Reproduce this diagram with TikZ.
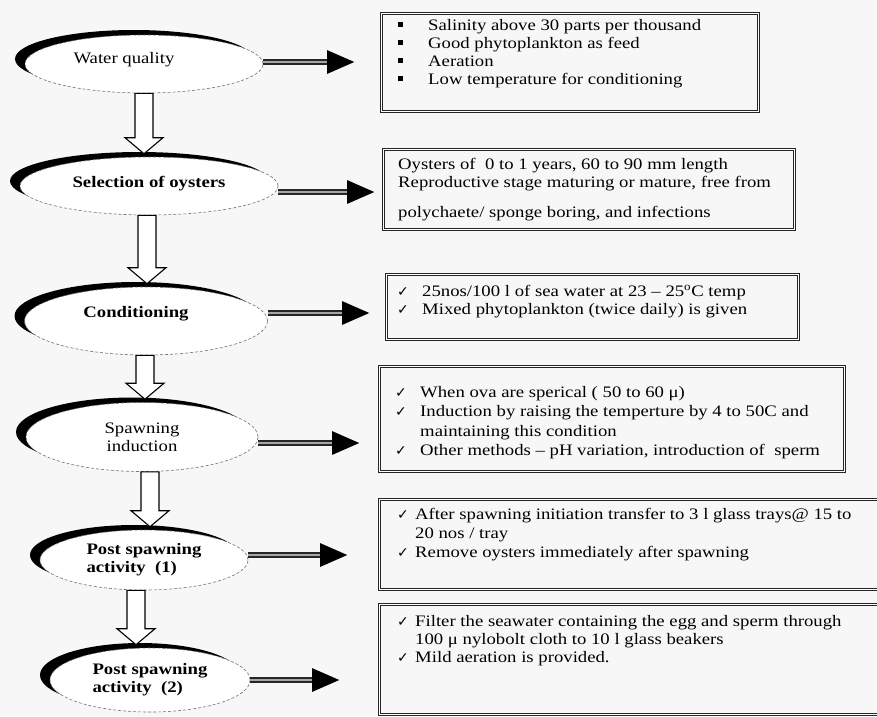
\documentclass[tikz,border=0pt]{standalone}
\usepackage{fontspec}
\setmainfont{Liberation Serif}[FakeStretch=1.17]
\newfontfamily\symf{DejaVu Sans}
\usetikzlibrary{shapes.geometric,shadows,arrows.meta,calc}

\newcommand\bitem[1]{\makebox[30pt][l]{\rule[3.5pt]{4.5pt}{4.5pt}}#1}
\newcommand\citem[2]{\makebox[#1][l]{\raisebox{0pt}{\symf\fontsize{14}{14}\selectfont ✓}}#2}
\newcommand\hollowdown[3]{%
  \draw[hollow] let \p1=(#1.south), \p2=(#2.north) in
   ({#3pt-9pt},\y1) -- ({#3pt+9pt},\y1) -- ({#3pt+9pt},\y2+19pt) --
   ({#3pt+19pt},\y2+19pt) -- (#3pt,\y2+3pt) -- ({#3pt-19pt},\y2+19pt) --
   ({#3pt-9pt},\y2+19pt) -- cycle;}

\begin{document}
\begin{tikzpicture}[x=1pt,y=-1pt,
  stage/.style={ellipse, fill=white, draw=black!55, densely dashed, line width=0.6pt,
    inner sep=0pt, align=center, font=\fontsize{16}{18}\selectfont,
    copy shadow={shadow xshift=-10pt, shadow yshift=5pt, fill=black, draw=none}},
  frame/.style={draw=black!85, line width=3.4pt, postaction={draw=white, line width=1pt},
    inner sep=0pt, anchor=north west},
  txt/.style={align=left, inner sep=0pt, anchor=north west, font=\fontsize{16}{18}\selectfont},
  rarrow/.style={line width=6pt, draw=black!85, -{Triangle[length=28pt,width=22pt,black]},
    postaction={draw=black!35, line width=2pt, -, shorten >=28pt}},
  hollow/.style={draw=black, line width=1.1pt, fill=white, line join=miter}]
\useasboundingbox[fill=black!3] (0,0) rectangle (877,716);

% stages
\node[stage, minimum width=238pt, minimum height=58pt] (e1) at (144,64)
  {\raisebox{12pt}{Water quality}\hspace*{40pt}};
\node[stage, minimum width=258pt, minimum height=58pt] (e2) at (149,186)
  {\raisebox{8pt}{\bfseries Selection of oysters}};
\node[stage, minimum width=243pt, minimum height=68pt] (e3) at (146,321)
  {\raisebox{18pt}{\bfseries Conditioning}\hspace*{20pt}};
\node[stage, minimum width=232pt, minimum height=69pt] (e4) at (142,437)
  {Spawning\\induction};
\node[stage, minimum width=208pt, minimum height=60pt, align=left] (e5) at (144,560)
  {\bfseries Post spawning\\\bfseries activity\ \ (1)};
\node[stage, minimum width=200pt, minimum height=64pt, align=left] (e6) at (150,680)
  {\bfseries Post spawning\\\bfseries activity\ \ (2)};

% boxes
\node[frame, minimum width=377pt, minimum height=98pt] (b1) at (380,12) {};
\node[frame, minimum width=411pt, minimum height=80pt] (b2) at (382,148) {};
\node[frame, minimum width=412pt, minimum height=65pt] (b3) at (385,273) {};
\node[frame, minimum width=465pt, minimum height=105pt] (b4) at (378,365) {};
\node[frame, minimum width=507pt, minimum height=90pt] (b5) at (378,498) {};
\node[frame, minimum width=507pt, minimum height=110pt] (b6) at (378,603) {};

\node[txt] (t1) at (398,19) {\bitem{Salinity above 30 parts per thousand}\\
  \bitem{Good phytoplankton as feed}\\
  \bitem{Aeration}\\
  \bitem{Low temperature for conditioning}};
\node[txt] (t2) at (398,158) {Oysters of \ 0 to 1 years, 60 to 90 mm length\\
  Reproductive stage maturing or mature, free from\\[12pt]
  polychaete/ sponge boring, and infections};
\node[txt] (t3) at (397,285) {\citem{25pt}{25nos/100 l of sea water at 23 -- 25\textsuperscript{o}C temp}\\
  \citem{25pt}{Mixed phytoplankton (twice daily) is given}};
\node[txt] (t4) at (395,386) {\citem{25pt}{When ova are sperical ( 50 to 60 μ)}\\[1.5pt]
  \citem{25pt}{Induction by raising the temperture by 4 to 50C and}\\[1.5pt]
  \hspace*{25pt}maintaining this condition\\[1.5pt]
  \citem{25pt}{Other methods -- pH variation, introduction of \ sperm}};
\node[txt] (t5) at (397,508) {\citem{18pt}{After spawning initiation transfer to 3 l glass trays@ 15 to}\\[1pt]
  \hspace*{18pt}20 nos / tray\\[1pt]
  \citem{18pt}{Remove oysters immediately after spawning}};
\node[txt] (t6) at (397,615) {\citem{18pt}{Filter the seawater containing the egg and sperm through}\\
  \hspace*{18pt}100 μ nylobolt cloth to 10 l glass beakers\\
  \citem{18pt}{Mild aeration is provided.}};

% right arrows
\draw[rarrow] ([yshift=2pt]e1.east) -- ([yshift=2pt,xshift=-25pt]e1.east -| b1.west);
\draw[rarrow] ([yshift=-6pt]e2.east) -- ([yshift=-6pt,xshift=-7pt]e2.east -| b2.west);
\draw[rarrow] ([yshift=8pt]e3.east) -- ([yshift=8pt,xshift=-15pt]e3.east -| b3.west);
\draw[rarrow] ([yshift=-6pt]e4.east) -- ([yshift=-6pt,xshift=-18pt]e4.east -| b4.west);
\draw[rarrow] ([yshift=5pt]e5.east) -- ([yshift=5pt,xshift=-30pt]e5.east -| b5.west);
\draw[rarrow] (e6.east) -- ([xshift=-38pt]e6.east -| b6.west);

% hollow down arrows
\hollowdown{e1}{e2}{144}
\hollowdown{e2}{e3}{147}
\hollowdown{e3}{e4}{145}
\hollowdown{e4}{e5}{150}
\hollowdown{e5}{e6}{136}
\end{tikzpicture}
\end{document}
